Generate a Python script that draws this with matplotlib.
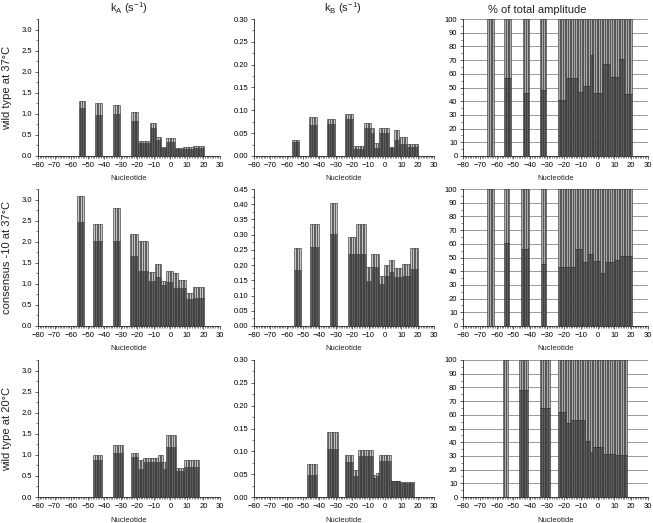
import numpy as np
import matplotlib
matplotlib.use("Agg")
import matplotlib.pyplot as plt
from matplotlib.ticker import MultipleLocator, FormatStrFormatter

plt.rcParams["font.family"] = ["Liberation Sans", "DejaVu Sans"]
plt.rcParams["mathtext.default"] = "regular"

# --- Data: segments of nucleotides (first, last, value, error) ---
KA_WT37 = [(-55, -52, 1.15, 0.16), (-45, -42, 0.98, 0.27), (-34, -31, 1.00, 0.22),
           (-23, -20, 0.82, 0.22), (-19, -13, 0.32, 0.04), (-12, -9, 0.66, 0.12),
           (-8, -6, 0.37, 0.08), (-5, -3, 0.18, 0.03), (-2, 2, 0.34, 0.08),
           (3, 7, 0.16, 0.02), (8, 13, 0.17, 0.04), (14, 20, 0.20, 0.04)]
KB_WT37 = [(-56, -53, 0.031, 0.005), (-46, -42, 0.068, 0.017), (-35, -31, 0.069, 0.013),
           (-24, -20, 0.080, 0.012), (-19, -13, 0.015, 0.007), (-12, -9, 0.062, 0.010),
           (-8, -7, 0.050, 0.012), (-6, -4, 0.017, 0.012), (-3, 2, 0.051, 0.011),
           (3, 5, 0.017, 0.003), (6, 8, 0.036, 0.022), (9, 13, 0.026, 0.016),
           (14, 20, 0.020, 0.006)]
PCT_WT37 = [(-65, -62, 0), (-55, -52, 57), (-44, -41, 46), (-34, -31, 48),
            (-23, -19, 41), (-18, -12, 57), (-11, -9, 47), (-8, -5, 51),
            (-4, -3, 74), (-2, 2, 46), (3, 7, 67), (8, 12, 58), (13, 15, 71),
            (16, 20, 45)]

KA_CONS = [(-56, -53, 2.47, 0.61), (-46, -42, 2.02, 0.41), (-34, -31, 2.02, 0.78),
           (-24, -20, 1.67, 0.51), (-19, -14, 1.31, 0.71), (-13, -10, 1.06, 0.22),
           (-9, -6, 1.16, 0.31), (-5, -3, 0.97, 0.10), (-2, 1, 1.04, 0.27),
           (2, 4, 0.91, 0.34), (5, 9, 0.90, 0.20), (10, 13, 0.63, 0.16),
           (14, 20, 0.67, 0.25)]
KB_CONS = [(-55, -52, 0.183, 0.074), (-45, -41, 0.259, 0.075), (-33, -30, 0.301, 0.102),
           (-22, -18, 0.238, 0.054), (-17, -12, 0.238, 0.096), (-11, -9, 0.149, 0.044),
           (-8, -4, 0.194, 0.044), (-3, -1, 0.138, 0.027), (0, 2, 0.165, 0.034),
           (3, 5, 0.178, 0.040), (6, 10, 0.161, 0.028), (11, 15, 0.165, 0.039),
           (16, 20, 0.187, 0.070)]
PCT_CONS = [(-65, -62, 0), (-55, -53, 60.5), (-45, -41, 56.4), (-33, -31, 45.3),
            (-23, -14, 43), (-13, -10, 56.4), (-9, -6, 46.7), (-5, -3, 52.5),
            (-2, 1, 47.7), (2, 4, 38.7), (5, 9, 46.7), (10, 13, 48.4),
            (14, 20, 51.3)]

KA_WT20 = [(-46, -42, 0.87, 0.12), (-34, -29, 1.05, 0.19), (-23, -20, 0.96, 0.09),
           (-19, -17, 0.67, 0.20), (-16, -8, 0.84, 0.09), (-7, -5, 0.83, 0.16),
           (-4, -3, 0.66, 0.17), (-2, 3, 1.18, 0.30), (4, 8, 0.61, 0.08),
           (9, 17, 0.71, 0.17)]
KB_WT20 = [(-47, -42, 0.049, 0.024), (-35, -29, 0.106, 0.036), (-24, -20, 0.076, 0.015),
           (-19, -17, 0.047, 0.013), (-16, -8, 0.089, 0.013), (-7, -6, 0.042, 0.007),
           (-5, -4, 0.046, 0.007), (-3, 3, 0.078, 0.013), (4, 9, 0.035, 0.001),
           (10, 17, 0.031, 0.002)]
PCT_WT20 = [(-56, -54, 0), (-46, -42, 78), (-34, -29, 65), (-23, -19, 61.7),
            (-18, -16, 54), (-15, -8, 56.2), (-7, -5, 40.7), (-4, -3, 33.2),
            (-2, 3, 36.3), (4, 10, 31.5), (11, 17, 31)]

ROW_LABELS = ["wild type at 37\u00b0C", "consensus -10 at 37\u00b0C", "wild type at 20\u00b0C"]
COL_TITLES = [r"k$_A$ (s$^{-1}$)", r"k$_B$ (s$^{-1}$)", "% of total amplitude"]
ROWS = [(KA_WT37, KB_WT37, PCT_WT37), (KA_CONS, KB_CONS, PCT_CONS), (KA_WT20, KB_WT20, PCT_WT20)]
KB_YMAX = [0.30, 0.45, 0.30]

# --- Style ---
DARK = "#5e5e5e"
LIGHT = "#c4c4c4"
LIGHT_PCT = "#ababab"
EDGE = "#2b2b2b"
W, H = 653, 523
COL_X = [(38, 182), (254, 180), (463, 185)]
ROW_Y = [(19, 156), (189, 326), (360, 497)]


def expand(segs):
    xs, cols = [], []
    for seg in segs:
        n = np.arange(seg[0], seg[1] + 1)
        xs.append(n)
        cols.append(np.array([np.full(len(n), v) for v in seg[2:]]))
    return np.concatenate(xs), np.concatenate(cols, axis=1)


def style_axis(ax, ymax, ystep, fmt):
    ax.set_xlim(-80, 30)
    ax.set_ylim(0, ymax)
    for s in ["top", "right"]:
        ax.spines[s].set_visible(False)
    for s in ["left", "bottom"]:
        ax.spines[s].set_linewidth(0.6)
        ax.spines[s].set_color("#222222")
    ax.xaxis.set_major_locator(MultipleLocator(10))
    ax.xaxis.set_minor_locator(MultipleLocator(1))
    ax.yaxis.set_major_locator(MultipleLocator(ystep))
    ax.yaxis.set_minor_locator(MultipleLocator(ystep / 2))
    ax.yaxis.set_major_formatter(FormatStrFormatter(fmt))
    ax.tick_params(which="major", direction="out", length=2.5, width=0.5,
                   labelsize=5.5, pad=1.5, color="#222222")
    ax.tick_params(which="minor", direction="out", length=1.5, width=0.4, color="#222222")


def draw_rate(ax, segs):
    x, (v, e) = expand(segs)
    ax.bar(x, v, width=1, color=DARK, edgecolor=EDGE, linewidth=0.4, zorder=3)
    ax.bar(x, e, bottom=v, width=1, color=LIGHT, edgecolor=EDGE, linewidth=0.4, zorder=3)


def draw_pct(ax, segs):
    x, (p,) = expand(segs)
    ax.yaxis.grid(True, color="#8a8a8a", linewidth=0.6)
    ax.set_axisbelow(True)
    ax.bar(x, 100 - p, bottom=p, width=1, color=LIGHT_PCT, edgecolor=EDGE, linewidth=0.4, zorder=2)
    ax.axvline(0, color="#444444", linewidth=0.6, linestyle=":", zorder=2.5)
    ax.bar(x, p, width=1, color=DARK, edgecolor=EDGE, linewidth=0.4, zorder=3)


fig = plt.figure(figsize=(W / 100, H / 100), dpi=100)

for r, (ka, kb, pct) in enumerate(ROWS):
    top, bot = ROW_Y[r]
    for c in range(3):
        left, width = COL_X[c]
        ax = fig.add_axes([left / W, 1 - bot / H, width / W, (bot - top) / H])
        if c == 0:
            draw_rate(ax, ka)
            style_axis(ax, 3.25, 0.5, "%.1f")
        elif c == 1:
            draw_rate(ax, kb)
            style_axis(ax, KB_YMAX[r], 0.05, "%.2f")
        else:
            draw_pct(ax, pct)
            style_axis(ax, 100, 10, "%d")
        ax.set_xlabel("Nucleotide", fontsize=5.5, labelpad=5, color="#222222")
    fig.text(7 / W, 1 - (top + bot) / 2 / H, ROW_LABELS[r], rotation=90,
             ha="center", va="center", fontsize=8, color="#222222")

fig.text(129 / W, 1 - 8 / H, COL_TITLES[0], ha="center", va="center", fontsize=8, color="#222222")
fig.text(343 / W, 1 - 8 / H, COL_TITLES[1], ha="center", va="center", fontsize=8, color="#222222")
fig.text(537 / W, 1 - 10 / H, COL_TITLES[2], ha="center", va="center", fontsize=8, color="#222222")

fig.savefig("out.png", dpi=100)
